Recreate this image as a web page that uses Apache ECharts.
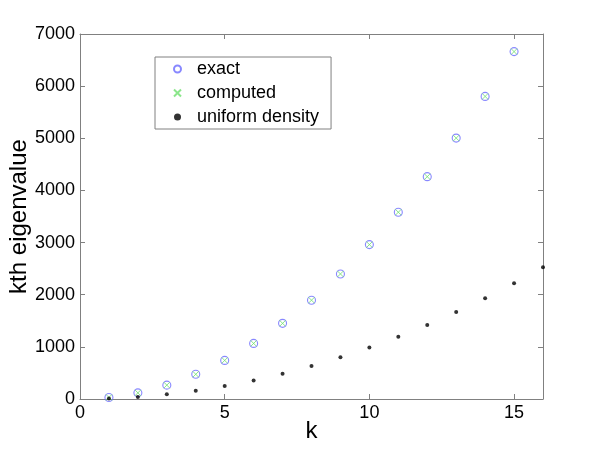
<!DOCTYPE html>
<html>
<head>
<meta charset="utf-8">
<script src="https://cdn.jsdelivr.net/npm/echarts@6/dist/echarts.min.js"></script>
<style>
  html, body { margin: 0; padding: 0; background: #fff; }
  #chart { width: 600px; height: 450px; }
</style>
</head>
<body>
<div id="chart"></div>
<script>
// values
var kExact = [1, 2, 3, 4, 5, 6, 7, 8, 9, 10, 11, 12, 13, 14, 15];
var exactVals = [30, 118, 266, 474, 740, 1066, 1451, 1895, 2398, 2961, 3582, 4264, 5004, 5803, 6662];
var computedVals = [30, 118, 266, 474, 740, 1066, 1451, 1895, 2398, 2961, 3582, 4264, 5004, 5803, 6662];
var kUniform = [1, 2, 3, 4, 5, 6, 7, 8, 9, 10, 11, 12, 13, 14, 15, 16];
var uniformVals = [10, 40, 89, 158, 247, 355, 484, 632, 800, 987, 1194, 1421, 1668, 1934, 2221, 2527];
var seriesNames = ['exact', 'computed', 'uniform density'];

function pairs(xs, ys) {
	var out = [];
	for (var i = 0; i < xs.length; i++) out.push([xs[i], ys[i]]);
	return out;
}

var font = 'Liberation Sans, Arial, sans-serif';
var axisGray = '#808080';

var baseX = {
	type : 'value',
	min : 0,
	max : 16,
	interval : 5,
	axisLine : { show : true, onZero : false, lineStyle : { color : axisGray } },
	axisTick : { show : true, inside : true, length : 5, lineStyle : { color : axisGray } },
	splitLine : { show : false }
};
var baseY = {
	type : 'value',
	min : 0,
	max : 7000,
	interval : 1000,
	axisLine : { show : true, onZero : false, lineStyle : { color : axisGray } },
	axisTick : { show : true, inside : true, length : 5, lineStyle : { color : axisGray } },
	splitLine : { show : false }
};

var option = {
	backgroundColor : '#fff',
	animation : false,
	grid : { left : 80, right : 57, top : 34, bottom : 51, containLabel : false, outerBoundsMode : 'none' },
	legend : {
		data : seriesNames,
		orient : 'vertical',
		left : 155,
		top : 57,
		borderColor : axisGray,
		borderWidth : 1,
		padding : [ 3, 12, 3, 18 ],
		itemGap : 6,
		itemWidth : 7,
		itemHeight : 7,
		textStyle : { fontFamily : font, fontSize : 18, color : '#000', padding : [ 0, 0, 0, 11 ] }
	},
	xAxis : [
		Object.assign({}, baseX, {
			position : 'bottom',
			name : 'k',
			nameLocation : 'middle',
			nameGap : 20,
			nameMoveOverlap : false,
			nameTextStyle : { fontFamily : font, fontSize : 24, color : '#000' },
			axisLabel : {
				fontFamily : font, fontSize : 18, color : '#000', margin : 5,
				showMaxLabel : false,
				formatter : function(v) { return String(v); }
			}
		}),
		Object.assign({}, baseX, { position : 'top', axisLabel : { show : false } })
	],
	yAxis : [
		Object.assign({}, baseY, {
			position : 'left',
			name : 'kth eigenvalue',
			nameLocation : 'middle',
			nameGap : 49,
			nameMoveOverlap : false,
			nameTextStyle : { fontFamily : font, fontSize : 24, color : '#000' },
			axisLabel : {
				fontFamily : font, fontSize : 18, color : '#000', margin : 5,
				formatter : function(v) { return String(v); }
			}
		}),
		Object.assign({}, baseY, { position : 'right', axisLabel : { show : false } })
	],
	series : [ {
		name : 'exact',
		type : 'scatter',
		symbol : 'circle',
		symbolSize : 8,
		itemStyle : { color : 'rgba(0,0,0,0)', borderColor : '#6a6aff', borderWidth : 1.1 },
		data : pairs(kExact, exactVals)
	}, {
		name : 'computed',
		type : 'scatter',
		symbol : 'path://M0,0L10,10M10,0L0,10',
		symbolSize : 6,
		itemStyle : { color : 'rgba(0,0,0,0)', borderColor : '#6ee06e', borderWidth : 1 },
		data : pairs(kExact, computedVals)
	}, {
		name : 'uniform density',
		type : 'scatter',
		symbol : 'circle',
		symbolSize : 4,
		itemStyle : { color : '#000' },
		data : pairs(kUniform, uniformVals)
	} ]
};

var chart = echarts.init(document.getElementById('chart'));
chart.setOption(option, true);
</script>
</body>
</html>
